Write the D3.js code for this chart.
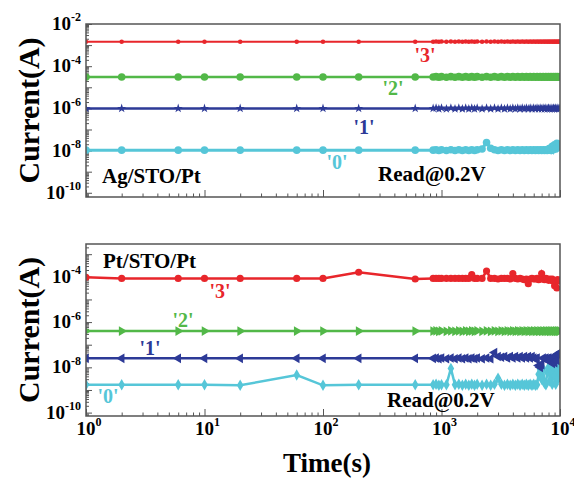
<!DOCTYPE html>
<html>
<meta charset="utf-8" />
<head>
<title>Retention</title>
<style>
body { margin: 0; background: #fff; }
svg text {
  font-family: "Liberation Serif", "Times New Roman", serif;
  font-weight: bold;
  fill: black;
}
.frame { fill: none; stroke: #555; stroke-width: 1.5px; }
.axis path { display: none; }
.axis line { stroke: #555; stroke-width: 1px; }
</style>
<script src="https://d3js.org/d3.v7.min.js" charset="utf-8"></script>
</head>
<body>
<svg class="chart" width="574" height="478"></svg>

<script>
// sample times (s)
var times = [1, 2, 6, 10, 20, 60, 100, 200, 600,
  850, 900, 950,
  1000, 1100, 1200, 1300, 1400, 1500, 1600, 1700, 1800, 1900, 2000,
  2200, 2400, 2600, 2800, 3000, 3200, 3400, 3600, 3800, 4000,
  4200, 4400, 4600, 4800, 5000, 5200, 5400, 5600, 5800, 6000,
  6200, 6400, 6600, 6800, 7000, 7200, 7400, 7600, 7800, 8000,
  8200, 8400, 8600, 8800, 9000, 9200, 9400, 9600, 9800, 10000];

// Ag/STO/Pt currents (mantissa, scaled below)
var agRed = [1.45, 1.45, 1.45, 1.45, 1.45, 1.45, 1.45, 1.45, 1.45,
  1.45, 1.5, 1.45,
  1.5, 1.45, 1.5, 1.45, 1.5, 1.45, 1.5, 1.45, 1.5, 1.45, 1.5,
  1.45, 1.5, 1.45, 1.5, 1.45, 1.5, 1.45, 1.5, 1.45, 1.5,
  1.45, 1.5, 1.45, 1.5, 1.45, 1.5, 1.45, 1.5, 1.45, 1.5,
  1.45, 1.5, 1.45, 1.5, 1.45, 1.5, 1.45, 1.5, 1.45, 1.5,
  1.45, 1.5, 1.45, 1.5, 1.45, 1.5, 1.45, 1.5, 1.45, 1.5];
var agGreen = [3.1, 3.1, 3.1, 3.1, 3.1, 3.1, 3.1, 3.1, 3.1,
  3.1, 3.2, 3.0,
  3.2, 3.0, 3.2, 3.0, 3.2, 3.0, 3.2, 3.0, 3.2, 3.0, 3.2,
  3.0, 3.2, 3.0, 3.2, 3.0, 3.2, 3.0, 3.2, 3.0, 3.2,
  3.0, 3.2, 3.0, 3.2, 3.0, 3.2, 3.0, 3.2, 3.0, 3.2,
  3.0, 3.2, 3.0, 3.2, 3.0, 3.2, 3.0, 3.2, 3.0, 3.2,
  3.0, 3.2, 3.0, 3.2, 3.0, 3.2, 3.0, 3.2, 3.0, 3.2];
var agBlue = [1.0, 1.0, 1.0, 1.0, 1.0, 1.0, 1.0, 1.0, 1.0,
  1.0, 1.05, 0.95,
  1.05, 0.95, 1.05, 0.95, 1.05, 0.95, 1.05, 0.95, 1.05, 0.95, 1.05,
  0.95, 1.05, 0.95, 1.05, 0.95, 1.05, 0.95, 1.05, 0.95, 1.05,
  0.95, 1.05, 0.95, 1.05, 0.95, 1.05, 0.95, 1.05, 0.95, 1.05,
  0.95, 1.05, 0.95, 1.05, 0.95, 1.05, 0.95, 1.05, 0.95, 1.05,
  0.95, 1.05, 0.95, 1.05, 0.95, 1.05, 0.95, 1.05, 0.95, 1.05];
var agCyan = [1.05, 1.05, 1.05, 1.05, 1.05, 1.05, 1.05, 1.05, 1.05,
  1.05, 1.1, 1.0,
  1.1, 1.0, 1.1, 1.0, 1.1, 1.0, 1.1, 1.0, 1.1, 1.0, 1.1,
  1.2, 2.4, 1.3, 1.1, 1.0, 1.1, 1.0, 1.1, 1.0, 1.1,
  1.0, 1.1, 1.0, 1.1, 1.0, 1.1, 1.0, 1.1, 1.0, 1.1,
  1.0, 1.1, 1.0, 1.1, 1.0, 1.1, 1.0, 1.1, 1.0, 1.2,
  1.3, 1.0, 1.6, 1.1, 1.9, 1.2, 2.2, 1.4, 2.0, 1.6];

// Pt/STO/Pt currents (mantissa, scaled below)
var ptRed = [9.5, 8.5, 8.5, 8.5, 8.5, 8.5, 8.5, 16, 8.0,
  8.5, 8.5, 8.5,
  8.5, 8.5, 8.5, 8.5, 8.5, 8.5, 8.5, 8.5, 12.5, 8.5, 8.5,
  8.5, 18, 8.5, 8.5, 8.0, 8.5, 8.5, 8.5, 8.0, 14,
  8.5, 8.0, 8.5, 8.0, 7.5, 8.0, 5.0, 8.0, 8.5, 8.0,
  8.0, 8.5, 7.5, 8.0, 14, 8.0, 7.5, 8.5, 8.0, 7.0,
  8.0, 7.0, 8.0, 6.5, 4.0, 7.0, 3.2, 7.5, 6.5, 7.0];
var ptGreen = [4.0, 4.0, 4.0, 4.0, 4.0, 4.0, 4.0, 4.0, 4.0,
  4.0, 4.1, 3.9,
  4.1, 3.9, 4.1, 3.9, 4.1, 3.9, 4.1, 3.9, 4.1, 3.9, 4.1,
  3.9, 4.1, 3.9, 4.1, 3.9, 4.1, 3.9, 4.1, 3.9, 4.1,
  3.9, 4.1, 3.9, 4.1, 3.9, 4.1, 3.9, 4.1, 3.9, 4.1,
  3.9, 4.1, 3.9, 4.1, 3.9, 4.1, 3.9, 4.1, 3.9, 4.1,
  3.9, 4.1, 3.9, 4.1, 3.9, 4.1, 3.9, 4.1, 3.9, 4.1];
var ptBlue = [2.5, 2.5, 2.5, 2.5, 2.5, 2.5, 2.5, 2.5, 2.5,
  2.5, 2.6, 2.4,
  2.6, 2.4, 2.6, 2.4, 2.6, 2.4, 2.6, 2.4, 2.6, 2.4, 2.6,
  2.4, 2.6, 2.4, 4.5, 3.0, 2.8, 3.0, 2.6, 3.0, 2.6,
  3.0, 2.6, 3.0, 2.6, 3.0, 2.6, 3.0, 2.6, 3.0, 2.6,
  2.4, 2.6, 1.2, 1.0, 1.3, 2.6, 2.4, 2.6, 2.4, 2.6,
  1.8, 2.6, 1.5, 2.8, 1.6, 3.0, 2.0, 4.0, 3.5, 4.5];
var ptCyan = [1.7, 1.7, 1.7, 1.7, 1.6, 4.6, 1.6, 1.7, 1.7,
  1.7, 1.8, 1.6,
  1.7, 1.7, 9.0, 1.7, 1.8, 1.6, 1.8, 1.6, 1.8, 1.6, 1.8,
  1.6, 1.8, 1.6, 1.8, 3.3, 1.8, 1.6, 1.8, 1.6, 1.8,
  1.6, 1.8, 1.6, 1.8, 1.6, 1.8, 1.6, 1.8, 1.6, 1.8,
  1.6, 1.7, 5.0, 8.0, 3.0, 9.0, 2.0, 1.7, 6.0, 10,
  2.5, 7.0, 1.8, 9.0, 4.0, 1.8, 8.0, 3.0, 10, 5.0];

var stateLabels = ["'0'", "'1'", "'2'", "'3'"];
var xTickExps = [0, 1, 2, 3, 4];
var agTickExps = [-10, -8, -6, -4, -2];
var ptTickExps = [-10, -8, -6, -4];

var colors = { red: "#e8262b", green: "#52b848", blue: "#2d3a97", cyan: "#56c6d8" };

var svg = d3.select(".chart");
var left = 86, right = 560;

var x = d3.scaleLog().domain([1, 1e4]).range([left, right]);

function series(vals, scale, color, symbol, size, rot, width) {
  return {
    pts: times.map(function(t, i) { return { t: t, v: vals[i] * scale }; }),
    color: color, symbol: symbol, size: size, rot: rot, width: width
  };
}

var panels = [
  {
    top: 24, bottom: 197, domain: [Math.pow(10, -10.2), 1e-2], ticks: agTickExps,
    name: "Ag/STO/Pt", nameX: 102, nameY: 183, readX: 378, readY: 181, xLabels: false,
    series: [
      series(agRed, 1e-3, colors.red, d3.symbolCircle, 16, 0, 2),
      series(agGreen, 1e-5, colors.green, d3.symbolCircle, 45, 0, 2.5),
      series(agBlue, 1e-6, colors.blue, d3.symbolStar, 26, 0, 2.5),
      series(agCyan, 1e-8, colors.cyan, d3.symbolCircle, 45, 0, 3)
    ],
    labels: [
      { s: 3, x: 425, y: 62, c: colors.red },
      { s: 2, x: 393, y: 95, c: colors.green },
      { s: 1, x: 364, y: 134, c: colors.blue },
      { s: 0, x: 337, y: 169, c: colors.cyan }
    ]
  },
  {
    top: 244, bottom: 416, domain: [Math.pow(10, -10.15), Math.pow(10, -2.55)], ticks: ptTickExps,
    name: "Pt/STO/Pt", nameX: 103, nameY: 268, readX: 387, readY: 407, xLabels: true,
    series: [
      series(ptCyan, 1e-9, colors.cyan, d3.symbolDiamond, 38, 0, 2.5),
      series(ptBlue, 1e-8, colors.blue, d3.symbolTriangle, 40, -90, 2.5),
      series(ptGreen, 1e-7, colors.green, d3.symbolTriangle, 40, 90, 2.5),
      series(ptRed, 1e-5, colors.red, d3.symbolCircle, 40, 0, 2.5)
    ],
    labels: [
      { s: 3, x: 220, y: 298, c: colors.red },
      { s: 2, x: 183, y: 327, c: colors.green },
      { s: 1, x: 150, y: 355, c: colors.blue },
      { s: 0, x: 108, y: 403, c: colors.cyan }
    ]
  }
];

// minor ticks 2..9 per decade
function minorTicks(lo, hi) {
  var out = [];
  for (var e = lo; e < hi; e++) {
    for (var m = 2; m <= 9; m++) out.push(m * Math.pow(10, e));
  }
  return out;
}

function powLabel(sel, base, exp, px, supPx) {
  sel.append("tspan").style("font-size", px + "px").text(base);
  sel.append("tspan").attr("dy", -px * 0.45).style("font-size", supPx + "px").text(exp);
}

panels.forEach(function(p, pi) {
  var y = d3.scaleLog().domain(p.domain).range([p.bottom, p.top]);
  var g = svg.append("g");

  g.append("clipPath").attr("id", "clip" + pi)
    .append("rect").attr("x", left).attr("y", p.top)
    .attr("width", right - left).attr("height", p.bottom - p.top);

  // axes, ticks pointing inward
  var yLo = Math.floor(Math.log10(p.domain[0])), yHi = Math.ceil(Math.log10(p.domain[1]));
  var yMajor = d3.range(yLo, yHi + 1).map(function(e) { return Math.pow(10, e); })
    .filter(function(v) { return v >= p.domain[0] && v <= p.domain[1] * 1.0001; });
  var yMinor = minorTicks(yLo, yHi).filter(function(v) { return v >= p.domain[0] && v <= p.domain[1]; });

  g.append("g").attr("class", "axis").attr("transform", "translate(" + left + ",0)")
    .call(d3.axisLeft(y).tickValues(yMajor).tickSize(-6).tickFormat(""));
  g.append("g").attr("class", "axis").attr("transform", "translate(" + left + ",0)")
    .call(d3.axisLeft(y).tickValues(yMinor).tickSize(-3).tickFormat(""));

  var xMajor = xTickExps.map(function(e) { return Math.pow(10, e); });
  g.append("g").attr("class", "axis").attr("transform", "translate(0," + p.bottom + ")")
    .call(d3.axisBottom(x).tickValues(xMajor).tickSize(-7).tickFormat(""));
  g.append("g").attr("class", "axis").attr("transform", "translate(0," + p.bottom + ")")
    .call(d3.axisBottom(x).tickValues(minorTicks(0, 4)).tickSize(-3.5).tickFormat(""));

  // y tick labels
  g.selectAll(".ylab").data(p.ticks).enter().append("text")
    .attr("class", "ylab")
    .attr("x", left - 5)
    .attr("y", function(e) { return y(Math.pow(10, e)) + 6; })
    .attr("text-anchor", "end")
    .each(function(e) { powLabel(d3.select(this), "10", String(e), 19, 12); });

  if (p.xLabels) {
    g.selectAll(".xlab").data(xTickExps).enter().append("text")
      .attr("class", "xlab")
      .attr("x", function(e) { return x(Math.pow(10, e)) + 3; })
      .attr("y", p.bottom + 19)
      .attr("text-anchor", "middle")
      .each(function(e) { powLabel(d3.select(this), "10", String(e), 19, 12); });
  }

  // data
  var line = d3.line().x(function(d) { return x(d.t); }).y(function(d) { return y(d.v); });
  var plot = g.append("g").attr("clip-path", "url(#clip" + pi + ")");
  p.series.forEach(function(s) {
    plot.append("path").datum(s.pts)
      .attr("fill", "none").attr("stroke", s.color)
      .attr("stroke-width", s.width).attr("d", line);
    plot.selectAll(null).data(s.pts).enter().append("path")
      .attr("fill", s.color)
      .attr("d", d3.symbol().type(s.symbol).size(s.size))
      .attr("transform", function(d) {
        return "translate(" + x(d.t) + "," + y(d.v) + ") rotate(" + s.rot + ")";
      });
  });

  // frame
  g.append("rect").attr("class", "frame")
    .attr("x", left).attr("y", p.top)
    .attr("width", right - left).attr("height", p.bottom - p.top);

  // texts
  g.append("text").attr("x", p.nameX).attr("y", p.nameY)
    .style("font-size", "21px").text(p.name);
  g.append("text").attr("x", p.readX).attr("y", p.readY)
    .style("font-size", "21px").text("Read@0.2V");
  g.selectAll(".state").data(p.labels).enter().append("text")
    .attr("class", "state")
    .attr("x", function(d) { return d.x; })
    .attr("y", function(d) { return d.y; })
    .attr("text-anchor", "middle")
    .style("font-size", "20px")
    .style("fill", function(d) { return d.c; })
    .text(function(d) { return stateLabels[d.s]; });

  g.append("text")
    .attr("transform", "translate(39," + ((p.top + p.bottom) / 2) + ") rotate(-90)")
    .attr("text-anchor", "middle")
    .style("font-size", "30px")
    .text("Current(A)");
});

svg.append("text").attr("x", 327).attr("y", 472)
  .attr("text-anchor", "middle")
  .style("font-size", "27px")
  .text("Time(s)");
</script>
</body>
</html>
